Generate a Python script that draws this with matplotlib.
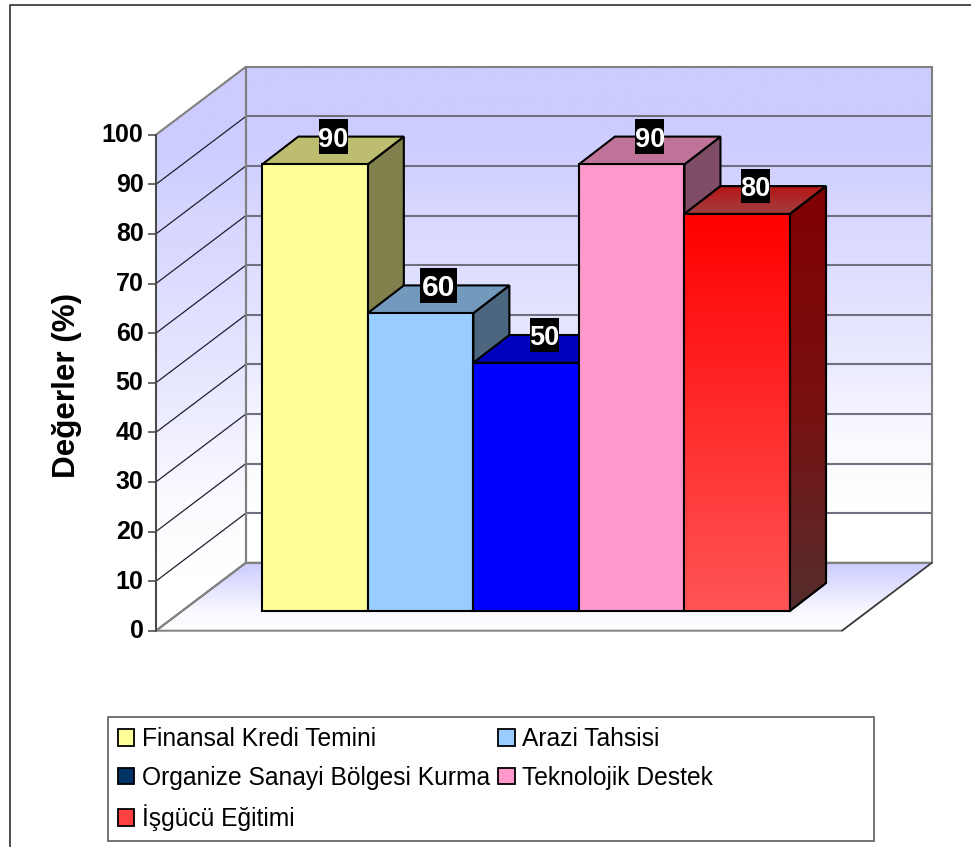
import numpy as np
import matplotlib
matplotlib.use('Agg')
import matplotlib.pyplot as plt
from matplotlib.colors import LinearSegmentedColormap
from matplotlib.lines import Line2D
from matplotlib.patches import Patch, Polygon, Rectangle
from matplotlib.transforms import ScaledTranslation

plt.rcParams['font.family'] = ['Liberation Sans', 'DejaVu Sans']

categories = ['Finansal Kredi Temini', 'Arazi Tahsisi', 'Organize Sanayi Bölgesi Kurma',
              'Teknolojik Destek', 'İşgücü Eğitimi']
values = [90, 60, 50, 90, 80]
y_ticks = [0, 10, 20, 30, 40, 50, 60, 70, 80, 90, 100]

front_colors = ['#ffff99', '#99ccff', '#0000ff', '#ff99cc', '#ff0000']
top_colors = ['#bdbd70', '#7399bd', '#0000bf', '#bf7399', '#c01515']
side_colors = ['#80804d', '#4d6680', '#000080', '#804d66', '#800000']
legend_colors = ['#ffff99', '#99ccff', '#003366', '#ff99cc', '#ff4040']
label_widths = [29, 37, 29, 29, 29]   # px, the 60 label is stretched in the original
label_sizes = [19.5, 21.5, 19.5, 19.5, 19.5]

W, H = 971, 847
PX_X = 105.54   # pixels per category
PX_Y = 4.96     # pixels per percent
BAR_LEFT, BAR_BOTTOM = 262.3, 610.7

# bar depth and wall corners, in data units of the front plane
DX, DY = 36 / PX_X, 27.7 / PX_Y
WALL_L = (246 - BAR_LEFT) / PX_X
WALL_R = (932 - BAR_LEFT) / PX_X
FLOOR_L = (156 - BAR_LEFT) / PX_X
FLOOR_R = (842 - BAR_LEFT) / PX_X
WALL_Y0 = (BAR_BOTTOM - 562.7) / PX_Y
FLOOR_Y0 = (BAR_BOTTOM - 630.7) / PX_Y
LABEL_H = 34.5 / PX_Y


def gradient(ax, clip, cols, x0, x1, y0, y1, z):
    cmap = LinearSegmentedColormap.from_list('g', cols)
    im = ax.imshow(np.linspace(0, 1, 256).reshape(-1, 1), cmap=cmap, aspect='auto',
                   extent=(x0, x1, y0, y1), origin='lower', zorder=z, interpolation='bilinear')
    im.set_clip_path(clip)
    return im


fig = plt.figure(figsize=(W / 100, H / 100), dpi=100)

# outer frame, open on the right
fig.add_artist(Line2D([10 / W, 10 / W, 1], [0, 1 - 5 / H, 1 - 5 / H], color='#303030', lw=1.2))

# whole figure, scaled so that the front plane of the bars is x 0..5, y 0..100
ax = fig.add_axes([0, 0, 1, 1])
ax.set_axis_off()
xlim = (-BAR_LEFT / PX_X, (W - BAR_LEFT) / PX_X)
ylim = ((BAR_BOTTOM - H) / PX_Y, BAR_BOTTOM / PX_Y)

wall_top = WALL_Y0 + 100
wall_cols = [(0, '#ffffff'), (0.1, '#ffffff'), (0.23, '#fbfbff'), (0.43, '#e8e8ff'),
             (0.73, '#d6d6ff'), (0.87, '#ccccff'), (1, '#ccccff')]

# back wall
back = Polygon([(WALL_L, WALL_Y0), (WALL_R, WALL_Y0), (WALL_R, wall_top), (WALL_L, wall_top)],
               fc='none', ec='#808080', lw=1.5, zorder=3)
ax.add_patch(back)
gradient(ax, back, wall_cols, WALL_L, WALL_R, WALL_Y0, wall_top, 1)

# left wall
left = Polygon([(FLOOR_L, FLOOR_Y0), (WALL_L, WALL_Y0), (WALL_L, wall_top), (FLOOR_L, FLOOR_Y0 + 100)],
               fc='none', ec='#808080', lw=1.5, zorder=3)
ax.add_patch(left)
gradient(ax, left, wall_cols, FLOOR_L, WALL_L, FLOOR_Y0, wall_top, 1)

# floor
floor = Polygon([(FLOOR_L, FLOOR_Y0), (FLOOR_R, FLOOR_Y0), (WALL_R, WALL_Y0), (WALL_L, WALL_Y0)],
                fc='none', ec='#808080', lw=1.4, zorder=3)
ax.add_patch(floor)
gradient(ax, floor, [(0, '#ffffff'), (0.3, '#f8f8ff'), (0.6, '#e5e5ff'), (1, '#ccccff')],
         FLOOR_L, WALL_R, FLOOR_Y0, WALL_Y0, 1)
ax.plot([FLOOR_R, WALL_R], [FLOOR_Y0, WALL_Y0], color='#303030', lw=0.9, zorder=3.1)

# grid on both walls
for t in y_ticks[1:-1]:
    ax.plot([WALL_L, WALL_R], [WALL_Y0 + t] * 2, color='#707080', lw=1.5, zorder=2)
    ax.plot([FLOOR_L, WALL_L], [FLOOR_Y0 + t, WALL_Y0 + t], color='#202030', lw=0.9, zorder=2)

# bars, left to right so that each covers the side of the one before it
z = 5
for i, v in enumerate(values):
    ax.fill([i + 1, i + 1 + DX, i + 1 + DX, i + 1], [0, DY, v + DY, v],
            fc=side_colors[i], ec='black', lw=1.5, zorder=z)
    ax.fill([i, i + DX, i + 1 + DX, i + 1], [v, v + DY, v + DY, v],
            fc=top_colors[i], ec='black', lw=1.5, zorder=z)
    bar = ax.bar(i, v, width=1, align='edge', color=front_colors[i], edgecolor='black',
                 lw=1.5, zorder=z + 0.2)[0]
    if i == 4:
        # the last bar is the only one with shaded faces
        bar.set_facecolor('none')
        gradient(ax, bar, ['#ff5555', '#ff0000'], i, i + 1, 0, v, z + 0.1)
        side = Polygon([(i + 1, 0), (i + 1 + DX, DY), (i + 1 + DX, v + DY), (i + 1, v)],
                       fc='none', ec='black', lw=1.5, zorder=z + 0.1)
        ax.add_patch(side)
        gradient(ax, side, ['#552d2d', '#7a1010', '#800000'], i + 1, i + 1 + DX, 0, v + DY, z + 0.05)
        cap = Polygon([(i, v), (i + DX, v + DY), (i + 1 + DX, v + DY), (i + 1, v)],
                      fc='none', ec='black', lw=1.5, zorder=z + 0.1)
        ax.add_patch(cap)
        gradient(ax, cap, ['#a04040', '#b81515'], i, i + 1 + DX, v, v + DY, z + 0.05)
    z += 1

for i, v in enumerate(values):
    cx, cy = i + 0.5 + DX / 2, v + DY
    bw = label_widths[i] / PX_X
    ax.add_patch(Rectangle((cx - bw / 2, cy - LABEL_H / 2), bw, LABEL_H, fc='black', ec='none', zorder=19))
    ax.text(cx, cy, str(v), ha='center', va='center_baseline', color='white',
            fontsize=label_sizes[i], fontweight='bold', zorder=20)

ax.set_xlim(*xlim)
ax.set_ylim(*ylim)

# value axis at the front edge of the left wall
ax_y = fig.add_axes([156 / W, 1 - 630.7 / H, 1 / W, 100 * PX_Y / H], zorder=5)
ax_y.patch.set_alpha(0)
ax_y.set_ylim(0, 100)
ax_y.set_yticks(y_ticks)
ax_y.set_xticks([])
for s in ['top', 'right', 'bottom']:
    ax_y.spines[s].set_visible(False)
ax_y.spines['left'].set_color('#404040')
ax_y.spines['left'].set_linewidth(1.2)
ax_y.tick_params(axis='y', length=6, width=1.2, color='#505050', pad=3)
lift = ScaledTranslation(0, 2 / 100, fig.dpi_scale_trans)
for lab in ax_y.get_yticklabels():
    lab.set_fontsize(18)
    lab.set_fontweight('bold')
    lab.set_transform(lab.get_transform() + lift)
ax_y.set_ylabel('Değerler (%)', fontsize=22.6, fontweight='bold', labelpad=14, y=0.495)

# legend box is wider than its entries, so the frame is drawn apart
fig.add_artist(Rectangle((108 / W, 1 - 841 / H), 766 / W, 124.5 / H, fc='white', ec='#505050', lw=1.1,
                         transform=fig.transFigure, zorder=6))
handles = [Patch(fc=c, ec='black', lw=1.3) for c in legend_colors]
order = [0, 2, 4, 1, 3]
leg = fig.legend([handles[i] for i in order], [categories[i] for i in order],
                 loc='upper left', bbox_to_anchor=(118 / W, 1 - 727 / H), borderaxespad=0,
                 ncols=2, fontsize=17.7, frameon=False,
                 handlelength=0.66, handleheight=0.66, handletextpad=0.3, labelspacing=0.6,
                 columnspacing=0.35, borderpad=0)
leg.set_zorder(7)

fig.savefig('out.png', dpi=100)
